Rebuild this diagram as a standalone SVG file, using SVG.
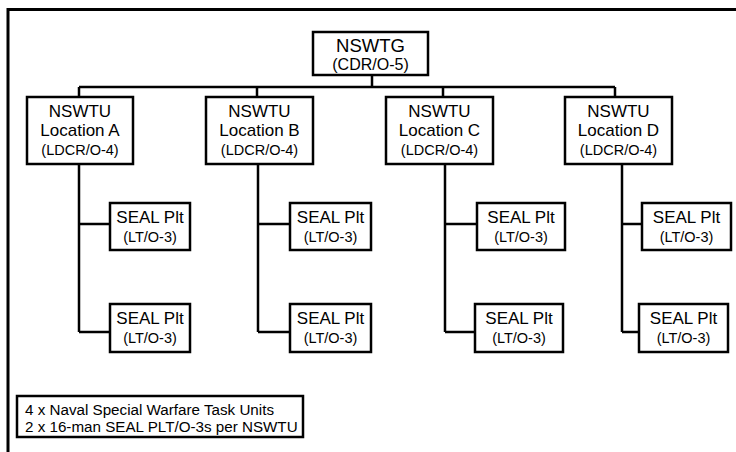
<svg xmlns="http://www.w3.org/2000/svg" width="736" height="452" viewBox="0 0 736 452">
  <style>
    .box { fill: #fff; stroke: #000; stroke-width: 2.5; }
    .wire { fill: none; stroke: #000; stroke-width: 2.5; }
    .frame { fill: none; stroke: #000; stroke-width: 3; }
    text { font-family: "Liberation Sans", Arial, sans-serif; fill: #000; text-anchor: middle; }
    .top { font-size: 18.5px; }
    .topsub { font-size: 16px; }
    .big { font-size: 17px; }
    .small { font-size: 14.5px; }
    .note { font-size: 15.2px; text-anchor: start; }
  </style>

  <!-- outer frame -->
  <path class="frame" d="M8 452 V9.5 H736"/>

  <!-- connectors -->
  <g id="connectors">
    <path class="wire" d="M372 75 V87 M79 87 H615 M79 87 V97 M257 87 V97 M443 87 V97 M615 87 V97"/>
    <path class="wire" d="M79 164 V332 M79 224 H110 M79 332 H110"/>
    <path class="wire" d="M258 164 V332 M258 224 H290 M258 332 H290"/>
    <path class="wire" d="M445 164 V332 M445 224 H477 M445 332 H475"/>
    <path class="wire" d="M622 164 V332 M622 224 H642 M622 332 H639"/>
  </g>

  <!-- group headquarters -->
  <g id="nswtg">
    <rect class="box" x="313" y="32" width="115" height="43"/>
    <text class="top" x="370.5" y="52">NSWTG</text>
    <text class="topsub" x="370.5" y="70">(CDR/O-5)</text>
  </g>

  <!-- task units -->
  <g id="nswtu-a">
    <rect class="box" x="27" y="97" width="106" height="67"/>
    <text class="big" x="80" y="117">NSWTU</text>
    <text class="big" x="80" y="136">Location A</text>
    <text class="small" x="80" y="155">(LDCR/O-4)</text>
  </g>
  <g id="nswtu-b">
    <rect class="box" x="206" y="97" width="107" height="67"/>
    <text class="big" x="259.5" y="117">NSWTU</text>
    <text class="big" x="259.5" y="136">Location B</text>
    <text class="small" x="259.5" y="155">(LDCR/O-4)</text>
  </g>
  <g id="nswtu-c">
    <rect class="box" x="386" y="97" width="107" height="67"/>
    <text class="big" x="439.5" y="117">NSWTU</text>
    <text class="big" x="439.5" y="136">Location C</text>
    <text class="small" x="439.5" y="155">(LDCR/O-4)</text>
  </g>
  <g id="nswtu-d">
    <rect class="box" x="565" y="97" width="107" height="67"/>
    <text class="big" x="618.5" y="117">NSWTU</text>
    <text class="big" x="618.5" y="136">Location D</text>
    <text class="small" x="618.5" y="155">(LDCR/O-4)</text>
  </g>

  <!-- platoons -->
  <g id="plt-a1">
    <rect class="box" x="110" y="203" width="80" height="47"/>
    <text class="big" x="150" y="223">SEAL Plt</text>
    <text class="small" x="150" y="242">(LT/O-3)</text>
  </g>
  <g id="plt-a2">
    <rect class="box" x="110" y="304" width="80" height="48"/>
    <text class="big" x="150" y="324">SEAL Plt</text>
    <text class="small" x="150" y="343">(LT/O-3)</text>
  </g>
  <g id="plt-b1">
    <rect class="box" x="290" y="203" width="81" height="47"/>
    <text class="big" x="330.5" y="223">SEAL Plt</text>
    <text class="small" x="330.5" y="242">(LT/O-3)</text>
  </g>
  <g id="plt-b2">
    <rect class="box" x="290" y="304" width="81" height="48"/>
    <text class="big" x="330.5" y="324">SEAL Plt</text>
    <text class="small" x="330.5" y="343">(LT/O-3)</text>
  </g>
  <g id="plt-c1">
    <rect class="box" x="477" y="203" width="88" height="47"/>
    <text class="big" x="521" y="223">SEAL Plt</text>
    <text class="small" x="521" y="242">(LT/O-3)</text>
  </g>
  <g id="plt-c2">
    <rect class="box" x="475" y="304" width="88" height="48"/>
    <text class="big" x="519" y="324">SEAL Plt</text>
    <text class="small" x="519" y="343">(LT/O-3)</text>
  </g>
  <g id="plt-d1">
    <rect class="box" x="642" y="203" width="89" height="47"/>
    <text class="big" x="686.5" y="223">SEAL Plt</text>
    <text class="small" x="686.5" y="242">(LT/O-3)</text>
  </g>
  <g id="plt-d2">
    <rect class="box" x="639" y="304" width="89" height="48"/>
    <text class="big" x="683.5" y="324">SEAL Plt</text>
    <text class="small" x="683.5" y="343">(LT/O-3)</text>
  </g>

  <!-- legend -->
  <g id="legend">
    <rect class="box" x="17" y="396" width="286" height="41" stroke-width="2"/>
    <text class="note" x="25" y="415">4 x Naval Special Warfare Task Units</text>
    <text class="note" x="25" y="432">2 x 16-man SEAL PLT/O-3s per NSWTU</text>
  </g>
</svg>
